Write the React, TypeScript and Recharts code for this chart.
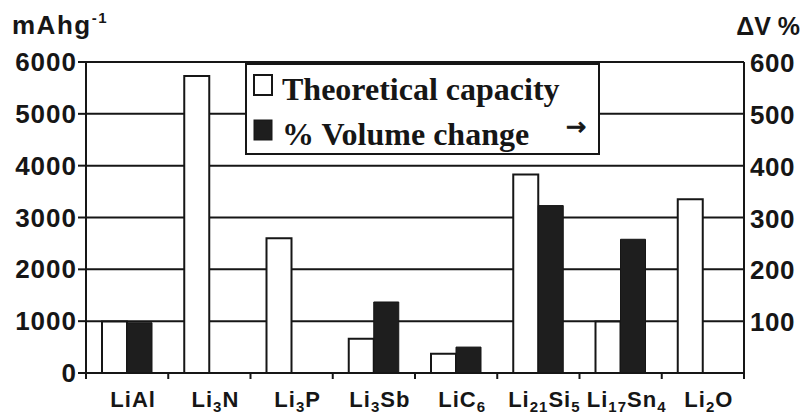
import { Bar, BarChart, CartesianGrid, Legend, XAxis, YAxis } from "recharts";

const categories = ["LiAl", "Li3N", "Li3P", "Li3Sb", "LiC6", "Li21Si5", "Li17Sn4", "Li2O"];
const theoreticalCapacity = [993, 5730, 2600, 660, 372, 3830, 994, 3350];
const volumeChange: (number | null)[] = [97, null, null, 137, 50, 323, 258, null];
const capacityTicks = [0, 1000, 2000, 3000, 4000, 5000, 6000];
const volumeTicks = [100, 200, 300, 400, 500, 600];
const legendOrder = ["capacity", "volume"];

const data = categories.map((name, i) => ({
  name,
  capacity: theoreticalCapacity[i],
  volume: volumeChange[i],
}));

const SANS = "'Liberation Sans', Arial, sans-serif";
const SERIF = "'Liberation Serif', 'Times New Roman', serif";
const INK = "#161616";

function CategoryTick(props: any) {
  const { x, y, payload, index } = props;
  const half = payload?.offset ?? 0;
  const parts = String(payload.value).split(/(\d+)/).filter(Boolean);
  let lowered = false;
  return (
    <g>
      <line x1={x - half} x2={x - half} y1={y} y2={y + 6} stroke={INK} strokeWidth={2} />
      {index === categories.length - 1 ? (
        <line x1={x + half} x2={x + half} y1={y} y2={y + 6} stroke={INK} strokeWidth={2} />
      ) : null}
      <text
        x={x + 6}
        y={y + 34}
        textAnchor="middle"
        fontFamily={SANS}
        fontWeight={700}
        fontSize={22}
        letterSpacing={1}
        fill={INK}
      >
        {parts.map((part, i) => {
          const isSub = /^\d+$/.test(part);
          const dy = isSub ? (lowered ? 0 : 5) : lowered ? -5 : 0;
          lowered = isSub;
          return (
            <tspan key={i} dy={dy} fontSize={isSub ? 15 : 22}>
              {part}
            </tspan>
          );
        })}
      </text>
    </g>
  );
}

function LeftTick({ x, y, payload }: any) {
  return (
    <text x={x} y={y + 9} textAnchor="end" fontFamily={SANS} fontWeight={700} fontSize={26} letterSpacing={1} fill={INK}>
      {payload.value}
    </text>
  );
}

function RightTick({ x, y, payload }: any) {
  return (
    <text x={x} y={y + 10} textAnchor="start" fontFamily={SANS} fontWeight={700} fontSize={26} letterSpacing={0.5} fill={INK}>
      {payload.value}
    </text>
  );
}

function LegendBox({ payload }: any) {
  const items = [...(payload ?? [])].sort(
    (a: any, b: any) => legendOrder.indexOf(a.dataKey) - legendOrder.indexOf(b.dataKey),
  );
  return (
    <svg width={355} height={92}>
      <rect x={1} y={1} width={353} height={90} fill="#fff" stroke={INK} strokeWidth={2} />
      {items.map((item: any, i: number) => {
        const top = 12 + i * 45;
        const filled = item.dataKey === "volume";
        return (
          <g key={item.value}>
            <rect
              x={9}
              y={top}
              width={18}
              height={20}
              fill={filled ? "#1e1e1e" : "#fff"}
              stroke={INK}
              strokeWidth={filled ? 1 : 2}
            />
            <text x={37} y={top + 25} fontFamily={SERIF} fontWeight={700} fontSize={32} fill={INK}>
              {item.value}
            </text>
            {filled ? (
              <text
                x={321}
                y={top + 15}
                fontFamily="'DejaVu Sans', sans-serif"
                fontSize={24}
                fill={INK}
                stroke={INK}
                strokeWidth={1}
              >
                →
              </text>
            ) : null}
          </g>
        );
      })}
    </svg>
  );
}

export default function App() {
  return (
    <div style={{ position: "absolute", left: 0, top: 0, width: 807, height: 416, background: "#fff" }}>
      <svg width={807} height={416} style={{ position: "absolute", left: 0, top: 0 }}>
        <text x={12} y={34} fontFamily={SANS} fontWeight={700} fontSize={26} letterSpacing={1.5} fill={INK}>
          mAhg
          <tspan fontSize={15} dy={-11}>
            -1
          </tspan>
        </text>
        <text x={800} y={35} textAnchor="end" fontFamily={SANS} fontWeight={700} fontSize={25} fill={INK}>
          ΔV %
        </text>
      </svg>
      <div style={{ position: "absolute", left: 0, top: 0 }}>
        <BarChart
          width={807}
          height={416}
          data={data}
          margin={{ top: 62, right: 3, bottom: 13, left: 26 }}
          barGap={0}
        >
          <CartesianGrid yAxisId="left" vertical={false} stroke={INK} strokeWidth={2} />
          <Bar
            yAxisId="left"
            dataKey="capacity"
            name="Theoretical capacity"
            fill="#fff"
            stroke={INK}
            strokeWidth={2}
            barSize={25}
            isAnimationActive={false}
          />
          <Bar
            yAxisId="right"
            dataKey="volume"
            name="% Volume change"
            fill="#1e1e1e"
            stroke={INK}
            strokeWidth={1}
            barSize={25}
            isAnimationActive={false}
          />
          <XAxis
            dataKey="name"
            height={30}
            tickSize={0}
            tickMargin={0}
            tickLine={false}
            axisLine={{ stroke: INK, strokeWidth: 2 }}
            tick={<CategoryTick />}
            interval={0}
          />
          <YAxis
            yAxisId="left"
            width={60}
            domain={[0, 6000]}
            ticks={capacityTicks}
            tickSize={8}
            tickMargin={1}
            tickLine={{ stroke: INK, strokeWidth: 2 }}
            axisLine={{ stroke: INK, strokeWidth: 2 }}
            tick={<LeftTick />}
            interval={0}
          />
          <YAxis
            yAxisId="right"
            orientation="right"
            width={60}
            domain={[0, 600]}
            ticks={volumeTicks}
            tickSize={0}
            tickMargin={6}
            tickLine={false}
            axisLine={{ stroke: INK, strokeWidth: 2 }}
            tick={<RightTick />}
            interval={0}
          />
          <Legend
            layout="horizontal"
            verticalAlign="middle"
            align="center"
            wrapperStyle={{ position: "absolute", left: 245, top: 63, width: 355, height: 92 }}
            content={<LegendBox />}
          />
        </BarChart>
      </div>
    </div>
  );
}
